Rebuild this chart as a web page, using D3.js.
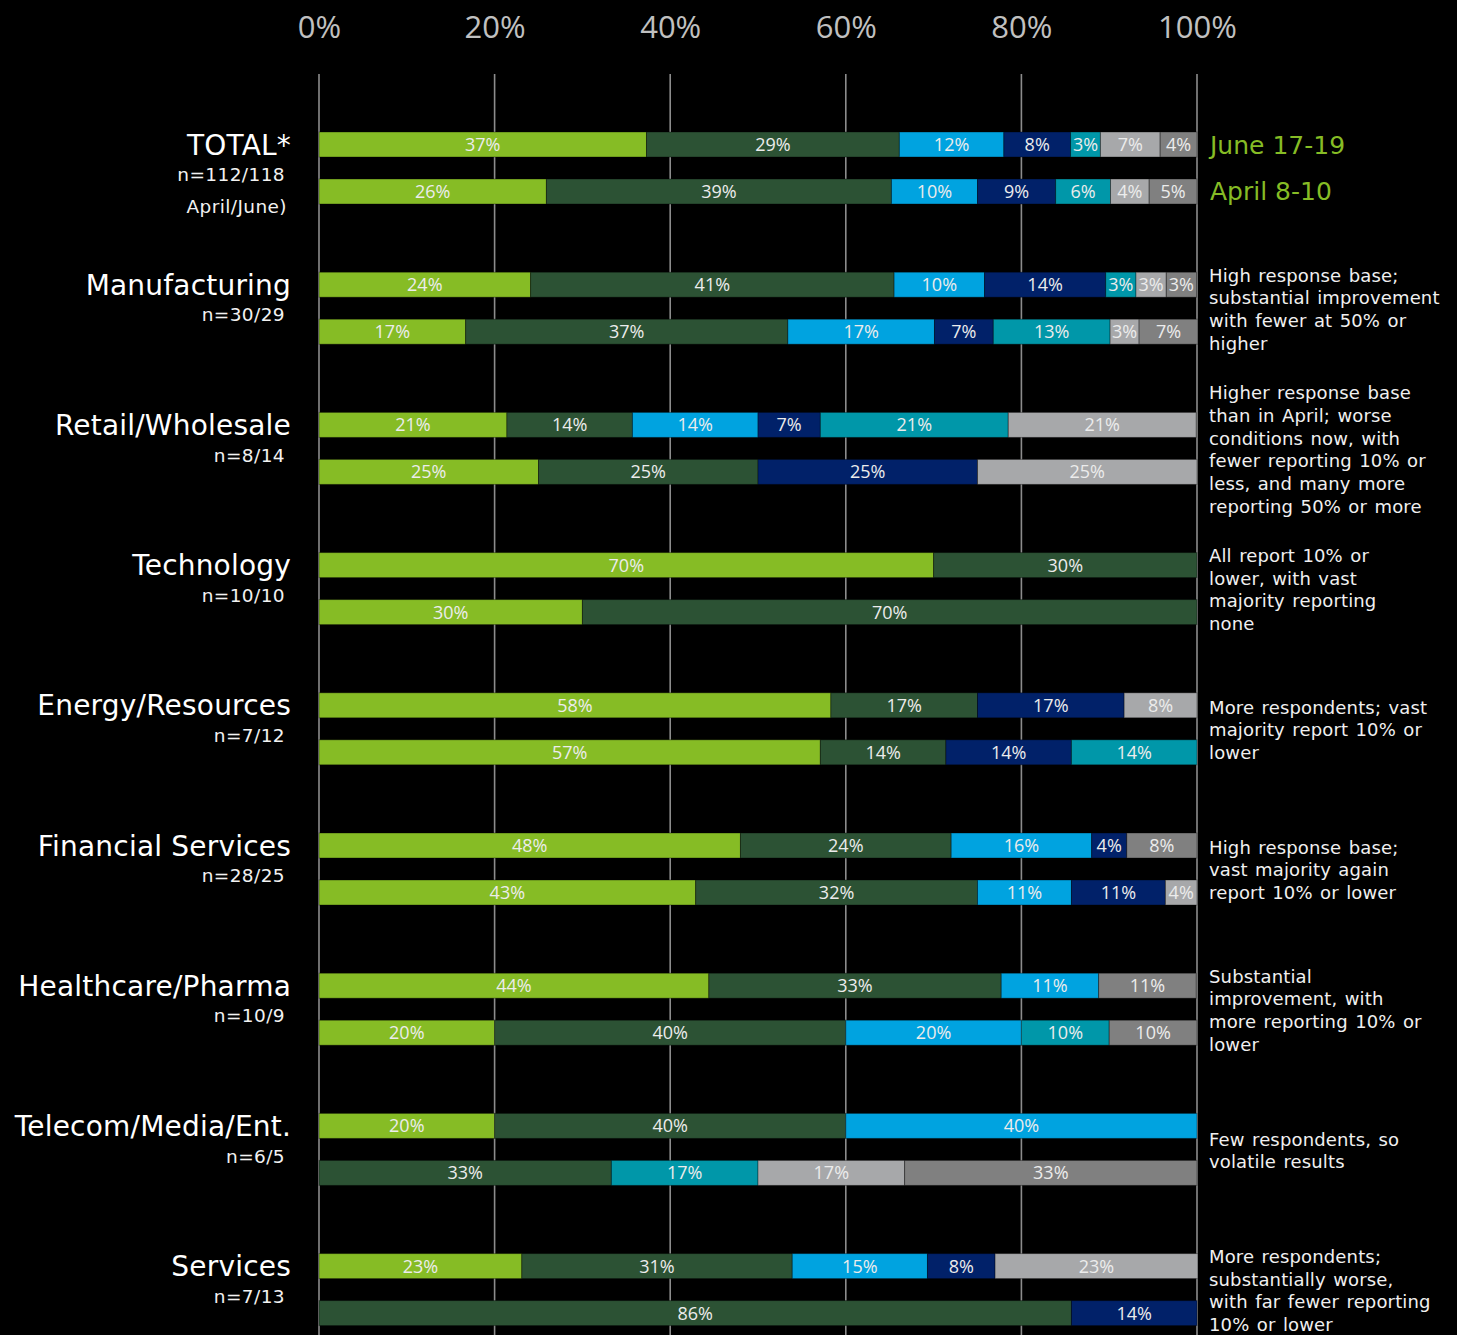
<!DOCTYPE html>
<html>
<head>
<meta charset="utf-8">
<script src="https://cdn.jsdelivr.net/npm/d3@7"></script>
<style>
  html, body { margin: 0; padding: 0; background: #000; }
  svg { display: block; }
</style>
</head>
<body>
<div id="chart"></div>
<script>
// ---------- DATA ----------
const categories = ["TOTAL*", "Manufacturing", "Retail/Wholesale", "Technology", "Energy/Resources",
  "Financial Services", "Healthcare/Pharma", "Telecom/Media/Ent.", "Services"];
const sampleLabels = [["n=112/118", "April/June)"], ["n=30/29"], ["n=8/14"], ["n=10/10"], ["n=7/12"],
  ["n=28/25"], ["n=10/9"], ["n=6/5"], ["n=7/13"]];
const periods = ["June 17-19", "April 8-10"];
const tickValues = [0, 20, 40, 60, 80, 100];
const seriesKeys = ["b1", "b2", "b3", "b4", "b5", "b6", "b7"];

// June 17-19 shares (%) by series, one value per category
const juneB1 = [37.3, 24.1, 21.4, 70, 58.3, 48, 44.4, 20, 23.1];
const juneB2 = [28.8, 41.4, 14.3, 30, 16.7, 24, 33.3, 40, 30.8];
const juneB3 = [11.9, 10.3, 14.3, 0, 0, 16, 11.1, 40, 15.4];
const juneB4 = [7.6, 13.8, 7.1, 0, 16.7, 4, 0, 0, 7.7];
const juneB5 = [3.4, 3.45, 21.4, 0, 0, 0, 0, 0, 0];
const juneB6 = [6.8, 3.45, 21.4, 0, 8.3, 0, 0, 0, 23.1];
const juneB7 = [4.2, 3.45, 0, 0, 0, 8, 11.1, 0, 0];

// April 8-10 shares (%)
const aprilB1 = [25.9, 16.7, 25, 30, 57.1, 42.9, 20, 0, 0];
const aprilB2 = [39.3, 36.7, 25, 70, 14.3, 32.1, 40, 33.3, 85.7];
const aprilB3 = [9.8, 16.7, 0, 0, 0, 10.7, 20, 0, 0];
const aprilB4 = [8.9, 6.7, 25, 0, 14.3, 10.7, 0, 0, 14.3];
const aprilB5 = [6.25, 13.3, 0, 0, 14.3, 0, 10, 16.7, 0];
const aprilB6 = [4.4, 3.3, 25, 0, 0, 3.6, 0, 16.7, 0];
const aprilB7 = [5.45, 6.7, 0, 0, 0, 0, 10, 33.3, 0];

const notes = [
  [],
  ["High response base;", "substantial improvement", "with fewer at 50% or", "higher"],
  ["Higher response base", "than in April; worse", "conditions now, with", "fewer reporting 10% or", "less, and many more", "reporting 50% or more"],
  ["All report 10% or", "lower, with vast", "majority reporting", "none"],
  ["More respondents; vast", "majority report 10% or", "lower"],
  ["High response base;", "vast majority again", "report 10% or lower"],
  ["Substantial", "improvement, with", "more reporting 10% or", "lower"],
  ["Few respondents, so", "volatile results"],
  ["More respondents;", "substantially worse,", "with far fewer reporting", "10% or lower"]
];

// ---------- BUILD TABLE ----------
const juneSeries = [juneB1, juneB2, juneB3, juneB4, juneB5, juneB6, juneB7];
const aprilSeries = [aprilB1, aprilB2, aprilB3, aprilB4, aprilB5, aprilB6, aprilB7];
const rows = [];
categories.forEach((c, i) => {
  [juneSeries, aprilSeries].forEach((ser, p) => {
    const r = { category: c, period: periods[p] };
    seriesKeys.forEach((k, j) => r[k] = ser[j][i]);
    rows.push(r);
  });
});

const colors = d3.scaleOrdinal().domain(seriesKeys)
  .range(["#86BC25", "#2C5234", "#00A3E0", "#012169", "#0097A9", "#A7A8AA", "#808080"]);

// ---------- CHART ----------
const W = 1457, H = 1335;
const svg = d3.select("#chart").append("svg").attr("width", W).attr("height", H)
  .style("background", "#000");

const x = d3.scaleLinear().domain([0, 100]).range([319, 1197]);
const y0 = d3.scaleBand().domain(categories).range([74, 74 + 9 * 140.2]).padding(0);
const y1 = d3.scaleBand().domain(periods).range([58, 130]).paddingInner(0.468).paddingOuter(0);

// grid lines
svg.append("g").selectAll("line").data(tickValues).join("line")
  .attr("x1", d => x(d)).attr("x2", d => x(d))
  .attr("y1", 74).attr("y2", H)
  .attr("stroke", "#8c8c8c").attr("stroke-width", 1.6);

// top axis labels
const axis = d3.axisTop(x).tickValues(tickValues).tickFormat(d => d + "%").tickSize(0).tickPadding(0);
const ax = svg.append("g").attr("transform", "translate(0,38)").call(axis);
ax.select(".domain").remove();
ax.selectAll("text").attr("fill", "#c0c0c0").style("font-family", "'Open Sans', sans-serif")
  .style("font-size", "31px");

// stacked bars
const stack = d3.stack().keys(seriesKeys);
const stacked = stack(rows);

const gBars = svg.append("g");
stacked.forEach(layer => {
  const key = layer.key;
  layer.forEach(seg => {
    const d = seg.data;
    const v = seg[1] - seg[0];
    if (v <= 0) return;
    const yTop = y0(d.category) + y1(d.period);
    gBars.append("rect")
      .attr("x", x(seg[0])).attr("y", yTop)
      .attr("width", x(seg[1]) - x(seg[0])).attr("height", y1.bandwidth())
      .attr("fill", colors(key))
      .attr("stroke", "rgba(0,0,0,0.35)").attr("stroke-width", 1);
    gBars.append("text")
      .attr("x", (x(seg[0]) + x(seg[1])) / 2)
      .attr("y", yTop + y1.bandwidth() / 2)
      .attr("dy", "0.36em")
      .attr("text-anchor", "middle")
      .attr("fill", "#ececec")
      .style("font-family", "'Open Sans', sans-serif")
      .style("font-size", "18px")
      .text(Math.round(v) + "%");
  });
});

// category labels
const gLab = svg.append("g");
categories.forEach((c, i) => {
  const cy = y0(c) + y1(periods[0]) + y1.bandwidth() / 2;
  gLab.append("text").attr("x", 291).attr("y", cy).attr("dy", "0.36em")
    .attr("text-anchor", "end").attr("fill", "#ffffff")
    .style("font-family", "'DejaVu Sans', Verdana, sans-serif").style("font-size", "28px")
    .style("letter-spacing", "0.2px")
    .text(c);
  sampleLabels[i].forEach((s, k) => {
    gLab.append("text").attr("x", k === 0 ? 285 : 287).attr("y", cy + 30 + k * 32).attr("dy", "0.36em")
      .attr("text-anchor", "end").attr("fill", "#f2f2f2")
      .style("font-family", "'DejaVu Sans', Verdana, sans-serif").style("font-size", "18.5px")
      .style("letter-spacing", "0.4px")
      .text(s);
  });
});

// legend (period labels next to TOTAL bars)
periods.forEach(p => {
  svg.append("text").attr("x", 1210).attr("y", y0(categories[0]) + y1(p) + y1.bandwidth() / 2)
    .attr("dy", "0.36em").attr("fill", "#86BC25")
    .style("font-family", "'DejaVu Sans', Verdana, sans-serif").style("font-size", "25px")
    .text(p);
});

// notes
const lh = 22.7;
notes.forEach((lines, i) => {
  if (!lines.length) return;
  const c = categories[i];
  const center = y0(c) + (y1(periods[0]) + y1(periods[1]) + y1.bandwidth()) / 2 + 1;
  const start = center - (lines.length - 1) * lh / 2;
  lines.forEach((t, k) => {
    svg.append("text").attr("x", 1209).attr("y", start + k * lh).attr("dy", "0.36em")
      .attr("fill", "#f0f0f0")
      .style("font-family", "'DejaVu Sans', Verdana, sans-serif").style("font-size", "18px")
      .style("letter-spacing", "0.15px").style("word-spacing", "1.5px")
      .text(t);
  });
});
</script>
</body>
</html>
